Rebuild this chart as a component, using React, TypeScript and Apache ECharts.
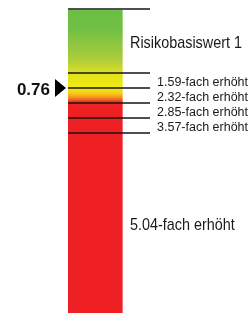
import React, { useEffect, useRef } from "react";
import * as echarts from "echarts";

// Risk levels (labels) and their vertical boundaries on the scale (units from top of scale)
const levelLabels = [
  "Risikobasiswert 1",
  "1.59-fach erhöht",
  "2.32-fach erhöht",
  "2.85-fach erhöht",
  "3.57-fach erhöht",
  "5.04-fach erhöht",
];
const boundaries = [0, 64, 79, 94, 109, 124, 304];
const markerLabel = "0.76";
const markerPos = 79;
const barRange = [1, 304];
const gradientStops = [
  [0, "#6abd45"],
  [0.066, "#72c044"],
  [0.165, "#aecd3b"],
  [0.215, "#e4e21d"],
  [0.257, "#f3e90f"],
  [0.275, "#f6cd17"],
  [0.29, "#f28a22"],
  [0.303, "#ee3024"],
  [0.316, "#ee2024"],
  [1, "#ee2024"],
];

export default function App() {
  const ref = useRef<HTMLDivElement>(null);
  useEffect(() => {
    const chart = echarts.init(ref.current!, null, { renderer: "svg" });
    const font = "'Liberation Sans', Arial, sans-serif";
    chart.setOption({
      animation: false,
      grid: { left: 68, right: 102, top: 9, bottom: 0 },
      xAxis: { type: "value", min: 0, max: 82, show: false },
      yAxis: { type: "value", min: 0, max: 304, inverse: true, show: false },
      series: [
        {
          type: "custom",
          silent: true,
          data: [[barRange[0], barRange[1]]],
          renderItem: (params: any, api: any) => {
            const p0 = api.coord([0, api.value(0)]);
            const p1 = api.coord([55, api.value(1)]);
            return {
              type: "group",
              children: [
                {
                  type: "rect",
                  shape: { x: p0[0], y: p0[1], width: p1[0] - p0[0], height: p1[1] - p0[1] },
                  style: {
                    fill: {
                      type: "linear",
                      x: 0,
                      y: 0,
                      x2: 0,
                      y2: 1,
                      colorStops: gradientStops.map(([o, c]) => ({ offset: o, color: c })),
                    },
                  },
                },
                {
                  type: "rect",
                  shape: { x: p1[0] - 1, y: p0[1], width: 1, height: p1[1] - p0[1] },
                  style: { fill: "rgba(255,255,255,0.35)" },
                },
              ],
            };
          },
          markLine: {
            silent: true,
            symbol: "none",
            label: { show: false },
            lineStyle: { color: "#151515", width: 1.5, type: "solid" },
            data: boundaries.slice(0, levelLabels.length).map((b) => ({ yAxis: b })),
          },
        },
        {
          type: "custom",
          silent: true,
          data: levelLabels.map((l, i) => [i, (boundaries[i] + boundaries[i + 1]) / 2]),
          renderItem: (params: any, api: any) => {
            const i = api.value(0);
            const pos = api.coord([0, api.value(1)]);
            const big = i === 0 || i === levelLabels.length - 1;
            const x = big ? api.coord([55, 0])[0] + 7 : api.coord([82, 0])[0] + 7;
            return {
              type: "text",
              x,
              y: pos[1] + 1,
              scaleX: big ? 0.9 : 1,
              style: {
                text: levelLabels[i],
                fill: "#1a1a1a",
                font: big ? `16px ${font}` : `12.5px ${font}`,
                align: "left",
                verticalAlign: "middle",
              },
            };
          },
        },
        {
          type: "custom",
          silent: true,
          data: [[0, markerPos]],
          renderItem: (params: any, api: any) => {
            const p = api.coord([0, api.value(1)]);
            return {
              type: "group",
              children: [
                {
                  type: "polygon",
                  shape: {
                    points: [
                      [p[0] - 13, p[1] - 9],
                      [p[0] - 13, p[1] + 9],
                      [p[0] - 2, p[1]],
                    ],
                  },
                  style: { fill: "#000" },
                },
                {
                  type: "text",
                  x: p[0] - 18,
                  y: p[1] + 1,
                  style: {
                    text: markerLabel,
                    fill: "#111",
                    font: `bold 17px ${font}`,
                    align: "right",
                    verticalAlign: "middle",
                  },
                },
              ],
            };
          },
        },
      ],
    });
    return () => chart.dispose();
  }, []);
  return <div ref={ref} style={{ position: "fixed", left: 0, top: 0, width: 252, height: 313 }} />;
}
